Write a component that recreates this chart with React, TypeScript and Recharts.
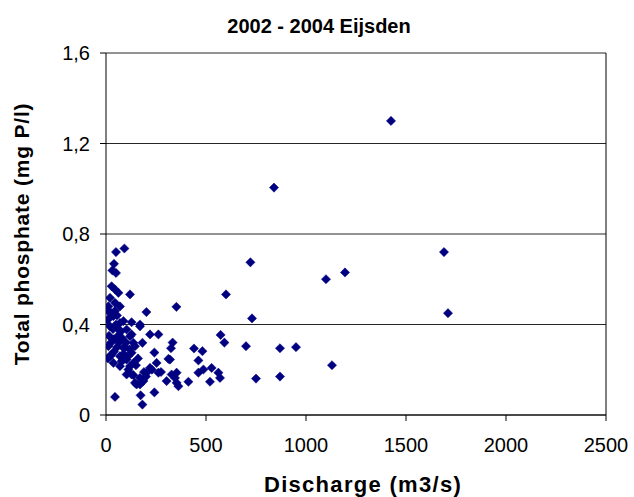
import React from 'react';
import { ScatterChart, Scatter, XAxis, YAxis, CartesianGrid, ReferenceLine } from 'recharts';

const title = '2002 - 2004 Eijsden';
const xTitle = 'Discharge (m3/s)';
const yTitle = 'Total phosphate (mg P/l)';
const xTicks = [0, 500, 1000, 1500, 2000, 2500];
const yTicks = [0, 0.4, 0.8, 1.2, 1.6];

const discharge = [
  1425, 840, 1690, 1710, 1195, 1100, 722, 730, 600, 352,
  202, 870, 950, 1130, 870, 750, 700, 573, 592, 440,
  482, 462, 487, 528, 562, 570, 520, 412, 462, 353,
  345, 362, 320, 333, 325, 312, 303, 353, 328, 275,
  262, 220, 182, 242, 253, 220, 262, 203, 170, 187,
  145, 170, 128, 112, 137, 87, 28, 37, 70, 12,
  53, 128, 170, 103, 20, 70, 137, 128, 242, 173,
  182, 45, 92, 50, 40, 32, 50, 28, 45, 62,
  120, 20, 12, 45, 70, 20, 45, 87, 128, 170,
  120, 37, 62, 37, 20, 70, 103, 145, 87, 78,
  153, 103, 137, 120, 8, 15, 25, 30, 55, 60,
  40, 10, 65, 80, 95, 110, 50, 15, 75, 100,
  35, 55, 88, 118, 150, 160, 190, 200, 230,
];

const phosphate = [
  1.3, 1.005, 0.72, 0.45, 0.63, 0.6, 0.675, 0.427, 0.533, 0.478,
  0.455, 0.295, 0.3, 0.22, 0.17, 0.161, 0.304, 0.354, 0.32, 0.294,
  0.282, 0.241, 0.201, 0.208, 0.187, 0.164, 0.147, 0.147, 0.187, 0.187,
  0.164, 0.127, 0.245, 0.32, 0.295, 0.248, 0.15, 0.142, 0.179, 0.19,
  0.356, 0.356, 0.319, 0.276, 0.23, 0.208, 0.187, 0.187, 0.164, 0.15,
  0.142, 0.135, 0.179, 0.201, 0.23, 0.245, 0.267, 0.23, 0.216, 0.304,
  0.334, 0.356, 0.392, 0.378, 0.392, 0.407, 0.319, 0.275, 0.1, 0.087,
  0.046, 0.08, 0.736, 0.72, 0.668, 0.639, 0.628, 0.569, 0.555, 0.54,
  0.533, 0.518, 0.48, 0.496, 0.48, 0.452, 0.46, 0.415, 0.41, 0.4,
  0.348, 0.334, 0.378, 0.437, 0.26, 0.26, 0.245, 0.304, 0.297, 0.238,
  0.135, 0.179, 0.176, 0.216, 0.42, 0.35, 0.32, 0.44, 0.3, 0.35,
  0.28, 0.25, 0.32, 0.34, 0.3, 0.26, 0.4, 0.46, 0.37, 0.32,
  0.38, 0.44, 0.27, 0.29, 0.22, 0.25, 0.19, 0.17, 0.2,
];

const data = discharge.map((q, i) => ({ q, p: phosphate[i] }));

const FONT = "Arial, 'Liberation Sans', sans-serif";
const NAVY = '#000080';

const Diamond = (props: any) => {
  const { cx, cy } = props;
  if (cx == null || cy == null) return null;
  const r = 4.6;
  return (
    <polygon
      points={`${cx},${cy - r} ${cx + r},${cy} ${cx},${cy + r} ${cx - r},${cy}`}
      fill={NAVY}
      stroke={NAVY}
      strokeWidth={0.5}
    />
  );
};

const fmtY = (v: number) => (v === 0 ? '0' : v.toFixed(1).replace('.', ','));

export default function App() {
  return (
    <div style={{ position: 'absolute', left: 0, top: 0, width: 634, height: 497, background: '#fff' }}>
      <div
        style={{
          position: 'absolute',
          left: 0,
          top: 14,
          width: 634,
          textAlign: 'center',
          fontFamily: FONT,
          fontWeight: 'bold',
          fontSize: 20,
          paddingLeft: 2,
          lineHeight: '24px',
          color: '#000',
        }}
      >
        {title}
      </div>
      <ScatterChart width={634} height={497} margin={{ top: 53, right: 28, left: 46, bottom: 52 }}>
        <CartesianGrid horizontal={true} vertical={false} stroke="#000" strokeOpacity={0.85} />
        <XAxis
          type="number"
          dataKey="q"
          domain={[0, 2500]}
          ticks={xTicks}
          interval={0}
          height={30}
          tickSize={6}
          tickMargin={17}
          axisLine={{ stroke: '#000' }}
          tickLine={{ stroke: '#000' }}
          tick={{ fill: '#000', fontSize: 20, fontFamily: FONT }}
          allowDataOverflow
          label={(props: any) => {
            const vb = props.viewBox || {};
            return (
              <text
                x={vb.x + vb.width / 2 + 7}
                y={492}
                textAnchor="middle"
                fontFamily={FONT}
                fontWeight="bold"
                fontSize={22}
                letterSpacing={1.3}
                fill="#000"
              >
                {xTitle}
              </text>
            );
          }}
        />
        <YAxis
          type="number"
          dataKey="p"
          domain={[0, 1.6]}
          ticks={yTicks}
          interval={0}
          width={60}
          tickSize={6}
          tickMargin={10}
          tickFormatter={fmtY}
          axisLine={{ stroke: '#000' }}
          tickLine={{ stroke: '#000' }}
          tick={{ fill: '#000', fontSize: 20, fontFamily: FONT }}
          allowDataOverflow
          label={(props: any) => {
            const vb = props.viewBox || {};
            const cy = vb.y + vb.height / 2;
            return (
              <text
                x={29}
                y={cy}
                transform={`rotate(-90 29 ${cy})`}
                textAnchor="middle"
                fontFamily={FONT}
                fontWeight="bold"
                fontSize={21}
                letterSpacing={0.8}
                fill="#000"
              >
                {yTitle}
              </text>
            );
          }}
        />
        <ReferenceLine x={2500} stroke="#000" />
        <Scatter data={data} shape={Diamond} isAnimationActive={false} />
      </ScatterChart>
    </div>
  );
}
